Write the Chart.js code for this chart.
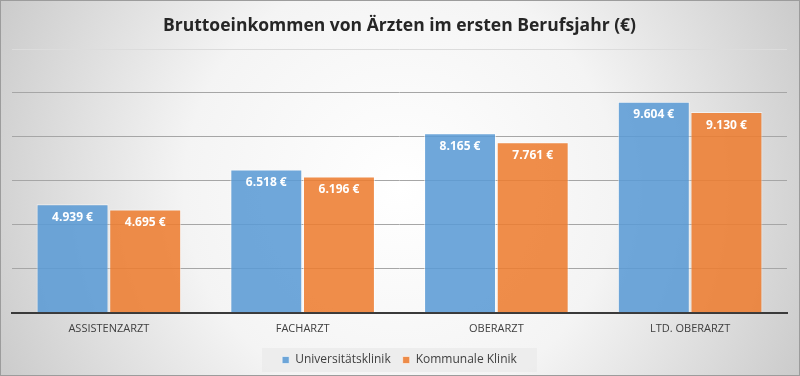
<!DOCTYPE html>
<html>
<head>
<meta charset="utf-8">
<script src="https://cdn.jsdelivr.net/npm/chart.js@4.4.1/dist/chart.umd.min.js"></script>
<style>
  html, body { margin: 0; padding: 0; background: #fff; }
  #wrap { width: 800px; height: 376px; }
</style>
</head>
<body>
<div id="wrap"><canvas id="incomeChart" width="800" height="376"></canvas></div>
<script>
var categories = ['ASSISTENZARZT', 'FACHARZT', 'OBERARZT', 'LTD. OBERARZT'];
var uniValues = [4939, 6518, 8165, 9604];
var kommValues = [4695, 6196, 7761, 9130];
var seriesNames = ['Universitätsklinik', 'Kommunale Klinik'];

function euro(v) {
    return v.toLocaleString('de-DE') + ' €';
}

// gradient background + frame
var bgPlugin = {
    id: 'bg',
    beforeDraw: function(chart) {
        var c = chart.ctx, w = chart.width, h = chart.height;
        c.save();
        var g = c.createRadialGradient(w / 2, h / 2, 0, w / 2, h / 2, w * 0.6);
        g.addColorStop(0, '#ffffff');
        g.addColorStop(0.45, '#f4f4f4');
        g.addColorStop(1, '#c4c4c4');
        c.fillStyle = g;
        c.fillRect(0, 0, w, h);
        c.strokeStyle = '#9c9c9c';
        c.lineWidth = 1;
        c.strokeRect(0.5, 0.5, w - 1, h - 1);
        // legend panel
        var lg = chart.legend;
        if (lg && lg.legendHitBoxes && lg.legendHitBoxes.length) {
            var hb = lg.legendHitBoxes;
            var x0 = hb[0].left - 20, x1 = hb[hb.length - 1].left + hb[hb.length - 1].width + 20;
            c.fillStyle = 'rgba(235,235,235,0.85)';
            c.fillRect(x0, hb[0].top - 6, x1 - x0, hb[0].height + 12);
        }
        c.restore();
    }
};

// value labels inside the top of each bar
var labelPlugin = {
    id: 'valueLabels',
    afterDatasetsDraw: function(chart) {
        var c = chart.ctx;
        c.save();
        c.font = 'bold 12px "Open Sans", sans-serif';
        c.fillStyle = '#ffffff';
        c.textAlign = 'center';
        c.textBaseline = 'middle';
        chart.data.datasets.forEach(function(ds, i) {
            chart.getDatasetMeta(i).data.forEach(function(bar, j) {
                c.fillText(euro(ds.data[j]), bar.x, bar.y + 13);
            });
        });
        c.restore();
    }
};

var ctx = document.getElementById('incomeChart').getContext('2d');
var incomeChart = new Chart(ctx, {
    type: 'bar',
    data: {
        labels: categories,
        datasets: [{
            label: seriesNames[0],
            data: uniValues,
            backgroundColor: 'rgba(91, 155, 213, 0.88)',
            borderColor: 'rgba(255, 255, 255, 0.55)',
            borderWidth: 1,
            categoryPercentage: 0.75,
            barPercentage: 0.99
        }, {
            label: seriesNames[1],
            data: kommValues,
            backgroundColor: 'rgba(237, 125, 49, 0.88)',
            borderColor: 'rgba(255, 255, 255, 0.55)',
            borderWidth: 1,
            categoryPercentage: 0.75,
            barPercentage: 0.99
        }]
    },
    options: {
        responsive: false,
        animation: false,
        layout: { padding: { left: 12, right: 13, top: 0, bottom: 0 } },
        plugins: {
            title: {
                display: true,
                text: 'Bruttoeinkommen von Ärzten im ersten Berufsjahr (€)',
                color: '#262626',
                font: { family: '"Open Sans", sans-serif', size: 17.5, weight: 'bold' },
                padding: { top: 16, bottom: 12 }
            },
            legend: {
                position: 'bottom',
                labels: {
                    boxWidth: 7,
                    boxHeight: 7,
                    color: '#404040',
                    padding: 12,
                    font: { family: '"Open Sans", sans-serif', size: 12 }
                }
            },
            tooltip: { enabled: false }
        },
        scales: {
            x: {
                grid: { display: false },
                border: { display: true, color: '#3a3a3a', width: 2 },
                ticks: {
                    color: '#404040',
                    padding: 1,
                    font: { family: '"Open Sans", sans-serif', size: 11 }
                },
                afterFit: function(scale) { scale.height += 6; }
            },
            y: {
                min: 0,
                max: 12000,
                ticks: { display: false, stepSize: 2000 },
                grid: {
                    color: function(c) { return c.tick && c.tick.value === 12000 ? '#dcdcdc' : '#a6a6a6'; },
                    drawTicks: false
                },
                border: { display: false }
            }
        }
    },
    plugins: [bgPlugin, labelPlugin]
});
</script>
</body>
</html>
